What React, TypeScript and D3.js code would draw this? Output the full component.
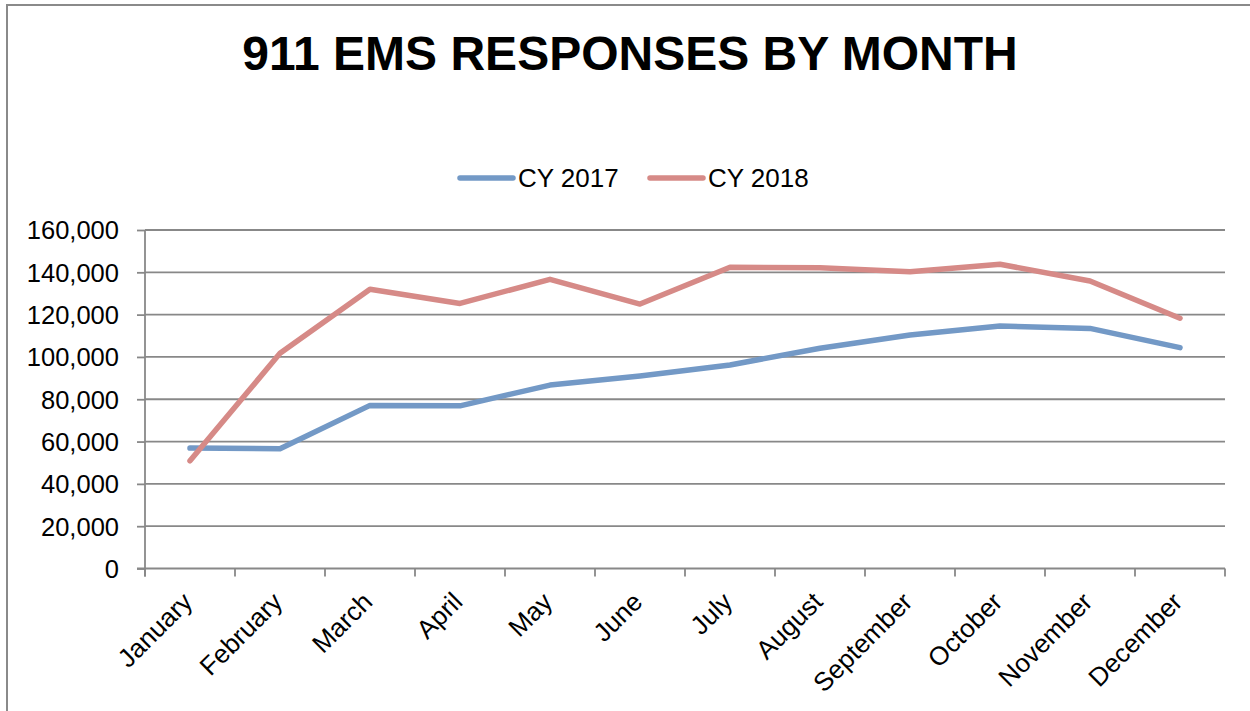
import * as d3 from "d3";
import { useEffect, useRef } from "react";

const months = ["January", "February", "March", "April", "May", "June", "July", "August", "September", "October", "November", "December"];
const cy2017 = [56900, 56600, 77100, 76900, 86700, 91000, 96200, 104100, 110400, 114600, 113500, 104400];
const cy2018 = [50900, 101700, 132000, 125300, 136700, 125000, 142400, 142200, 140300, 143800, 135900, 118300];
const yTicks = [0, 20000, 40000, 60000, 80000, 100000, 120000, 140000, 160000];
const seriesNames = ["CY 2017", "CY 2018"];
const seriesColors = ["#7399C6", "#D68A87"];

export default function App() {
  const ref = useRef<SVGSVGElement | null>(null);

  useEffect(() => {
    const width = 1250;
    const marginLeft = 145;
    const marginRight = 25;
    const marginTop = 230;
    const plotBottom = 568.5;
    const font = "Liberation Sans, Arial, sans-serif";

    const svg = d3.select(ref.current);
    svg.selectAll("*").remove();

    // outer frame (only left/top edges show in the window)
    svg.append("rect")
      .attr("x", 7).attr("y", 5)
      .attr("width", 1300).attr("height", 800)
      .attr("fill", "white")
      .attr("stroke", "#8a8a8a")
      .attr("stroke-width", 2);

    const x = d3.scaleBand().domain(months).range([marginLeft, width - marginRight]);
    const y = d3.scaleLinear().domain([0, 160000]).range([plotBottom, marginTop]);

    // title
    svg.append("text")
      .attr("x", 630).attr("y", 70)
      .attr("text-anchor", "middle")
      .attr("font-family", font)
      .attr("font-weight", "bold")
      .attr("font-size", 48)
      .text("911 EMS RESPONSES BY MONTH");

    // gridlines
    svg.append("g")
      .selectAll("line")
      .data(yTicks.filter(d => d > 0))
      .join("line")
      .attr("x1", marginLeft).attr("x2", width - marginRight)
      .attr("y1", d => y(d)).attr("y2", d => y(d))
      .attr("stroke", "#888").attr("stroke-width", 1.8);

    // y axis
    const yAxis = svg.append("g")
      .attr("transform", `translate(${marginLeft},0)`)
      .call(d3.axisLeft(y).tickValues(yTicks).tickSize(8).tickPadding(18).tickFormat(d3.format(",")));
    yAxis.selectAll("line").attr("stroke", "#888").attr("stroke-width", 1.8);
    yAxis.select(".domain").remove();
    yAxis.append("line")
      .attr("x1", 0).attr("x2", 0)
      .attr("y1", marginTop).attr("y2", plotBottom + 8)
      .attr("stroke", "#888").attr("stroke-width", 1.8);
    yAxis.selectAll("text")
      .attr("font-family", font).attr("font-size", 25.5).attr("fill", "#000")
      .attr("dy", "0.35em");

    // x axis
    const xAxis = svg.append("g").attr("transform", `translate(0,${plotBottom})`);
    xAxis.append("line")
      .attr("x1", marginLeft - 8).attr("x2", width - marginRight)
      .attr("stroke", "#888").attr("stroke-width", 1.8);
    xAxis.selectAll("line.tick")
      .data(d3.range(months.length + 1))
      .join("line")
      .attr("class", "tick")
      .attr("x1", i => marginLeft + i * x.step()).attr("x2", i => marginLeft + i * x.step())
      .attr("y1", 0).attr("y2", 8)
      .attr("stroke", "#888").attr("stroke-width", 1.8);
    xAxis.selectAll("text")
      .data(months)
      .join("text")
      .attr("transform", d => `translate(${(x(d) ?? 0) + x.bandwidth() / 2 + 4},${35}) rotate(-45)`)
      .attr("text-anchor", "end")
      .attr("font-family", font)
      .attr("font-size", 26)
      .text(d => d);

    // lines
    const line = d3.line<number>()
      .x((_, i) => (x(months[i]) ?? 0) + x.bandwidth() / 2)
      .y(d => y(d));
    [cy2017, cy2018].forEach((s, i) => {
      svg.append("path")
        .datum(s)
        .attr("d", line)
        .attr("fill", "none")
        .attr("stroke", seriesColors[i])
        .attr("stroke-width", 5.5)
        .attr("stroke-linecap", "round")
        .attr("stroke-linejoin", "round");
    });

    // legend
    const legendX = [460, 650];
    seriesNames.forEach((name, i) => {
      const g = svg.append("g").attr("transform", `translate(${legendX[i]},178)`);
      g.append("line")
        .attr("x1", 0).attr("x2", 53)
        .attr("stroke", seriesColors[i]).attr("stroke-width", 5.5)
        .attr("stroke-linecap", "round");
      g.append("text")
        .attr("x", 58).attr("dy", "0.35em")
        .attr("font-family", font).attr("font-size", 26)
        .text(name);
    });
  }, []);

  return (
    <svg ref={ref} width={1250} height={711}
      style={{ position: "absolute", left: 0, top: 0, background: "white" }} />
  );
}
